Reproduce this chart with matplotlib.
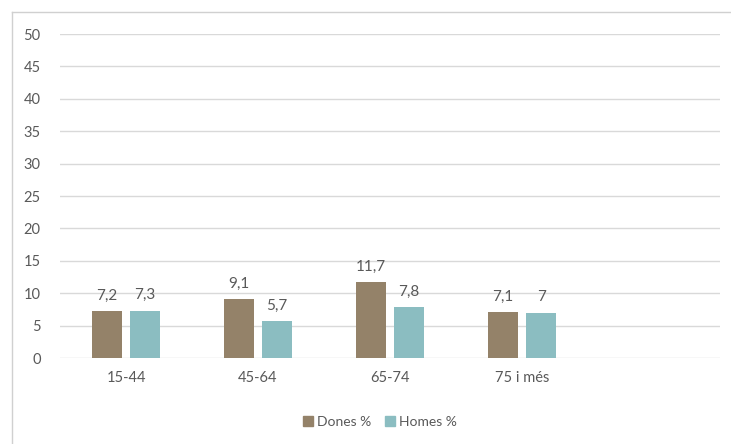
import matplotlib
matplotlib.use("Agg")
import matplotlib.pyplot as plt
import numpy as np
from matplotlib.lines import Line2D

categories = ["15-44", "45-64", "65-74", "75 i més", ""]
dones = [7.2, 9.1, 11.7, 7.1]
homes = [7.3, 5.7, 7.8, 7.0]
dones_labels = ["7,2", "9,1", "11,7", "7,1"]
homes_labels = ["7,3", "5,7", "7,8", "7"]
series_names = ["Dones %", "Homes %"]
yticks = [0, 5, 10, 15, 20, 25, 30, 35, 40, 45, 50]

brown = "#948269"
teal = "#8BBDC1"
text_col = "#595959"
grid_col = "#D9D9D9"

plt.rcParams["font.family"] = ["Lato", "DejaVu Sans"]

W, H = 731, 444
fig = plt.figure(figsize=(W / 100, H / 100), dpi=100)
ax = fig.add_axes([60 / W, (H - 358) / H, 660 / W, 324 / H])

x = np.arange(len(categories))
bw = 0.227
off = 0.145
n = len(dones)
b1 = ax.bar(x[:n] - off, dones, bw, color=brown, label=series_names[0], zorder=3)
b2 = ax.bar(x[:n] + off, homes, bw, color=teal, label=series_names[1], zorder=3)

for rect, lab in zip(b1, dones_labels):
    ax.text(rect.get_x() + rect.get_width() / 2, rect.get_height() + 1.3, lab,
            ha="center", va="bottom", fontsize=11, color=text_col, zorder=4)
for rect, lab in zip(b2, homes_labels):
    ax.text(rect.get_x() + rect.get_width() / 2, rect.get_height() + 1.3, lab,
            ha="center", va="bottom", fontsize=11, color=text_col, zorder=4)

ax.set_xlim(-0.5, len(categories) - 0.5)
ax.set_ylim(0, 50)
ax.set_yticks(yticks)
ax.set_xticks(x[:n])
ax.set_xticklabels(categories[:n])
ax.tick_params(axis="both", length=0, labelsize=10.5, colors=text_col)
ax.tick_params(axis="y", pad=14)
ax.tick_params(axis="x", pad=9)
ax.grid(axis="y", color=grid_col, linewidth=1, zorder=0)
for s in ax.spines.values():
    s.set_visible(False)

handles = [plt.Rectangle((0, 0), 1, 1, color=brown), plt.Rectangle((0, 0), 1, 1, color=teal)]
fig.legend(handles, series_names, loc="center", bbox_to_anchor=(380 / W, (H - 422) / H),
           ncol=2, frameon=False, fontsize=10, handlelength=0.7, handleheight=0.7,
           handletextpad=0.3, columnspacing=1.0, labelcolor=text_col)

# outer chart frame (top and left edges)
fig.add_artist(Line2D([12 / W, 12 / W], [0, (H - 12) / H], transform=fig.transFigure,
                      color="#D0D0D0", linewidth=1))
fig.add_artist(Line2D([12 / W, 1], [(H - 12) / H, (H - 12) / H], transform=fig.transFigure,
                      color="#D0D0D0", linewidth=1))

fig.savefig("out.png", dpi=100)
